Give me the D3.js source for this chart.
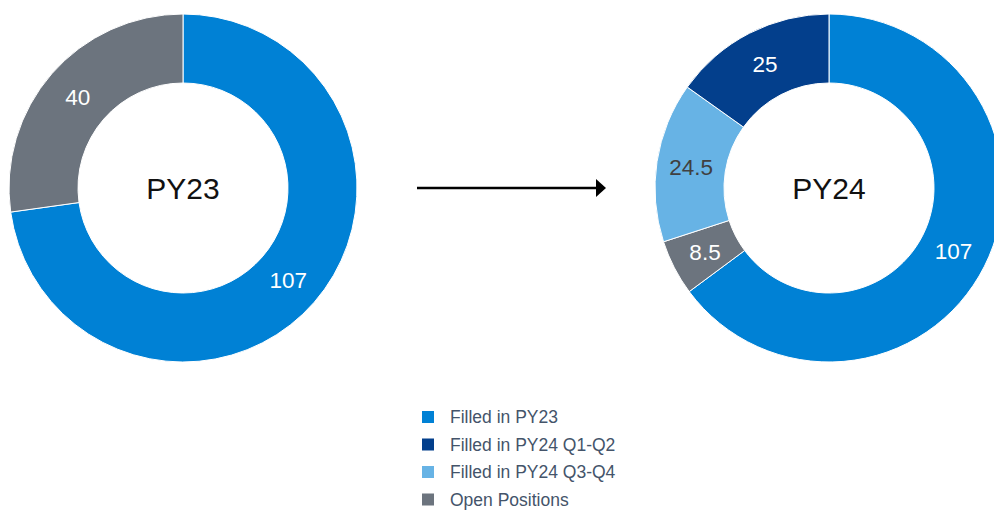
<!DOCTYPE html>
<html>
<head>
<meta charset="utf-8">
<title>PY23 vs PY24 positions</title>
<script src="https://cdn.jsdelivr.net/npm/d3@7"></script>
<style>
  body { margin: 0; background: #fff; font-family: "Liberation Sans", Arial, sans-serif; }
  .arc path { stroke: #fff; stroke-width: 1; }
</style>
</head>
<body>
<script>
// legend categories and colours
var categories = ["Filled in PY23", "Filled in PY24 Q1-Q2", "Filled in PY24 Q3-Q4", "Open Positions"];
var palette = ["#0081D5", "#033F8C", "#67B3E5", "#6C747E"];

// PY23 donut (clockwise from 12 o'clock)
var py23Cats = ["Filled in PY23", "Open Positions"];
var py23Values = [107, 40];

// PY24 donut
var py24Cats = ["Filled in PY23", "Open Positions", "Filled in PY24 Q3-Q4", "Filled in PY24 Q1-Q2"];
var py24Values = [107, 8.5, 24.5, 25];

var width = 994, height = 510;
var outerR = 174, innerR = 105;

var color = d3.scaleOrdinal().domain(categories).range(palette);
var labelColor = function (cat) { return cat === "Filled in PY24 Q3-Q4" ? "#404040" : "#fff"; };

var svg = d3.select("body").append("svg")
    .attr("width", width)
    .attr("height", height);

var arc = d3.arc().innerRadius(innerR).outerRadius(outerR);
var pie = d3.pie().sort(null).value(function (d) { return d.value; });

function donut(cx, cy, cats, values, title) {
    var data = cats.map(function (c, i) { return { cat: c, value: values[i] }; });
    var g = svg.append("g").attr("transform", "translate(" + cx + "," + cy + ")");
    var slices = g.selectAll(".arc")
        .data(pie(data))
        .enter().append("g")
        .attr("class", "arc");
    slices.append("path")
        .attr("d", arc)
        .style("fill", function (d) { return color(d.data.cat); });
    slices.append("text")
        .attr("transform", function (d) { return "translate(" + arc.centroid(d) + ")"; })
        .attr("dy", ".36em")
        .style("text-anchor", "middle")
        .style("font-size", "22.5px")
        .style("fill", function (d) { return labelColor(d.data.cat); })
        .text(function (d) { return d.data.value; });
    g.append("text")
        .attr("y", 11)
        .style("text-anchor", "middle")
        .style("font-size", "30px")
        .style("fill", "#111")
        .text(title);
}

donut(183, 188, py23Cats, py23Values, "PY23");
donut(829, 188, py24Cats, py24Values, "PY24");

// arrow between the two
svg.append("defs").append("marker")
    .attr("id", "head")
    .attr("viewBox", "0 0 10 18")
    .attr("refX", 0).attr("refY", 9)
    .attr("markerWidth", 10).attr("markerHeight", 18)
    .attr("markerUnits", "userSpaceOnUse")
    .attr("orient", "auto")
    .append("path")
    .attr("d", "M0,0 L10,9 L0,18 Z")
    .style("fill", "#000");

svg.append("line")
    .attr("x1", 417).attr("y1", 188)
    .attr("x2", 596).attr("y2", 188)
    .style("stroke", "#000")
    .style("stroke-width", 2.7)
    .attr("marker-end", "url(#head)");

// legend
var legend = svg.append("g").attr("transform", "translate(422,417)");
var rows = legend.selectAll("g")
    .data(categories)
    .enter().append("g")
    .attr("transform", function (d, i) { return "translate(0," + i * 27.5 + ")"; });
rows.append("rect")
    .attr("x", 0).attr("y", -6)
    .attr("width", 12).attr("height", 12)
    .style("fill", function (d) { return color(d); });
rows.append("text")
    .attr("x", 28)
    .attr("dy", ".35em")
    .style("font-size", "17.5px")
    .style("fill", "#44546A")
    .text(function (d) { return d; });
</script>
</body>
</html>
